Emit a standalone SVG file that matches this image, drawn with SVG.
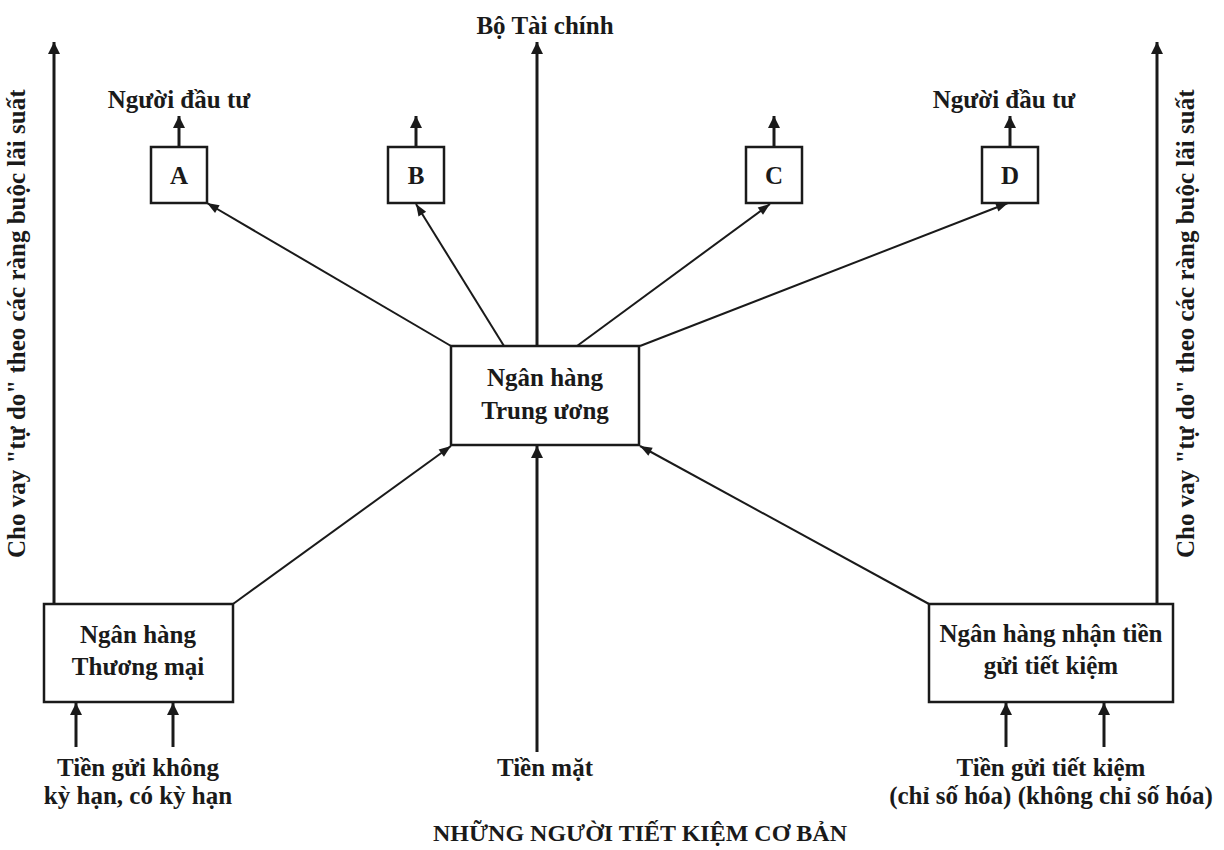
<svg xmlns="http://www.w3.org/2000/svg" width="1224" height="850" viewBox="0 0 1224 850">
<style>
text{font-family:"Liberation Serif","Times New Roman",serif;font-weight:bold;font-size:25px;fill:#1a1a1a;text-anchor:middle}
.title{font-size:24px}
.box{fill:#fff;stroke:#1a1a1a;stroke-width:2.5}
.thick{stroke:#1a1a1a;stroke-width:3;fill:none}
.thin{stroke:#1a1a1a;stroke-width:2;fill:none}
</style>
<defs>
<marker id="ah" markerUnits="userSpaceOnUse" markerWidth="14" markerHeight="14" viewBox="0 0 14 14" refX="13" refY="7" orient="auto">
<path d="M1,1 L13,7 L1,13 Z" fill="#1a1a1a"/>
</marker>
<marker id="ahs" markerUnits="userSpaceOnUse" markerWidth="14" markerHeight="12" viewBox="0 0 14 12" refX="13" refY="6" orient="auto">
<path d="M1,1.5 L13,6 L1,10.5 Z" fill="#1a1a1a"/>
</marker>
</defs>
<rect width="1224" height="850" fill="#fff"/>
<g id="connectors">
<line class="thick" x1="54" y1="604" x2="54" y2="42" marker-end="url(#ah)"/>
<line class="thick" x1="1157" y1="604" x2="1157" y2="42" marker-end="url(#ah)"/>
<line class="thick" x1="537" y1="346" x2="537" y2="42" marker-end="url(#ah)"/>
<line class="thick" x1="537" y1="752" x2="537" y2="446" marker-end="url(#ah)"/>
<line class="thick" x1="179" y1="147" x2="179" y2="116" marker-end="url(#ah)"/>
<line class="thick" x1="416" y1="147" x2="416" y2="116" marker-end="url(#ah)"/>
<line class="thick" x1="774" y1="147" x2="774" y2="116" marker-end="url(#ah)"/>
<line class="thick" x1="1010" y1="147" x2="1010" y2="116" marker-end="url(#ah)"/>
<line class="thick" x1="76" y1="747" x2="76" y2="703" marker-end="url(#ah)"/>
<line class="thick" x1="173" y1="747" x2="173" y2="703" marker-end="url(#ah)"/>
<line class="thick" x1="1006" y1="747" x2="1006" y2="703" marker-end="url(#ah)"/>
<line class="thick" x1="1104" y1="747" x2="1104" y2="703" marker-end="url(#ah)"/>
<line class="thin" x1="451" y1="346" x2="207" y2="203" marker-end="url(#ahs)"/>
<line class="thin" x1="504" y1="346" x2="416" y2="204" marker-end="url(#ahs)"/>
<line class="thin" x1="577" y1="346" x2="770" y2="204" marker-end="url(#ahs)"/>
<line class="thin" x1="640" y1="346" x2="1008" y2="203" marker-end="url(#ahs)"/>
<line class="thin" x1="233" y1="604" x2="451" y2="446" marker-end="url(#ahs)"/>
<line class="thin" x1="929" y1="604" x2="640" y2="446" marker-end="url(#ahs)"/>
</g>
<g id="node-A"><rect class="box" x="151" y="147" width="56" height="56"/><text x="179" y="184">A</text></g>
<g id="node-B"><rect class="box" x="388" y="147" width="56" height="56"/><text x="416" y="184">B</text></g>
<g id="node-C"><rect class="box" x="746" y="147" width="56" height="56"/><text x="774" y="184">C</text></g>
<g id="node-D"><rect class="box" x="982" y="147" width="56" height="56"/><text x="1010" y="184">D</text></g>
<g id="node-central"><rect class="box" x="451" y="346" width="188" height="99"/><text x="545" y="386">Ngân hàng</text><text x="545" y="419">Trung ương</text></g>
<g id="node-commercial"><rect class="box" x="44" y="604" width="189" height="98"/><text x="138" y="643">Ngân hàng</text><text x="138" y="675">Thương mại</text></g>
<g id="node-savings"><rect class="box" x="929" y="604" width="244" height="98"/><text x="1051" y="642">Ngân hàng nhận tiền</text><text x="1051" y="674">gửi tiết kiệm</text></g>
<g id="labels">
<text x="545" y="34">Bộ Tài chính</text>
<text x="179" y="108">Người đầu tư</text>
<text x="1004" y="108">Người đầu tư</text>
<text x="138" y="776">Tiền gửi không</text>
<text x="138" y="804">kỳ hạn, có kỳ hạn</text>
<text x="545" y="776">Tiền mặt</text>
<text x="1051" y="776">Tiền gửi tiết kiệm</text>
<text x="1051" y="804">(chỉ số hóa) (không chỉ số hóa)</text>
<text class="title" x="640" y="841">NHỮNG NGƯỜI TIẾT KIỆM CƠ BẢN</text>
<text transform="translate(25,558) rotate(-90)" style="text-anchor:start">Cho vay "tự do" theo các ràng buộc lãi suất</text>
<text transform="translate(1194,558) rotate(-90)" style="text-anchor:start">Cho vay "tự do" theo các ràng buộc lãi suất</text>
</g>
</svg>
